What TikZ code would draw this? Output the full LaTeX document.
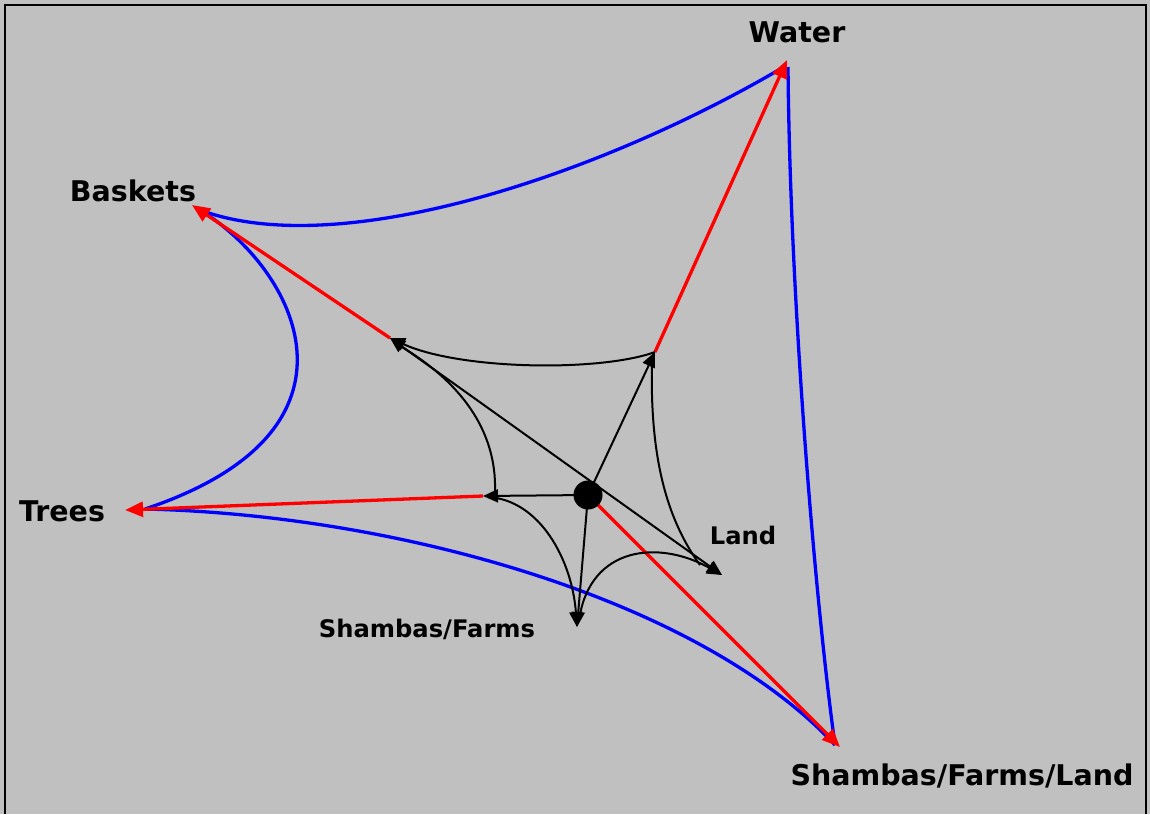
\documentclass[tikz,border=0pt]{standalone}
\usepackage{fontspec}
\setmainfont{DejaVu Sans}
\usetikzlibrary{arrows.meta}
\definecolor{bg}{HTML}{C0C0C0}
\begin{document}
\begin{tikzpicture}[x=1pt,y=-1pt,
 bigl/.style={font=\bfseries\fontsize{28.5}{31}\selectfont, inner sep=0pt},
 smalll/.style={font=\bfseries\fontsize{24.2}{27}\selectfont, inner sep=0pt},
 redarr/.style={draw=red, line width=3.3pt, -{Triangle[length=18pt,width=15pt]}},
 blueln/.style={draw=blue, line width=3.3pt},
 blk/.style={draw=black, line width=2pt},
 blkarr/.style={blk, -{Triangle[length=15pt,width=13pt]}},
 blkarr2/.style={blk, {Triangle[length=15pt,width=13pt]}-{Triangle[length=15pt,width=13pt]}},
]
\fill[bg] (0,0) rectangle (1150,814);
\useasboundingbox (0,0) rectangle (1150,814);
\draw[line width=2pt] (4.5,814) -- (4.5,4.5) -- (1146,4.5) -- (1146,814);

% labels
\node[bigl] (lw) at (797,32) {Water};
\node[bigl] (lb) at (133,191) {Baskets};
\node[bigl] (lt) at (62,511) {Trees};
\node[bigl] (ls) at (962,776) {Shambas/Farms/Land};
\node[smalll] (ll) at (743,535) {Land};
\node[smalll] (lsf) at (427,629) {Shambas/Farms};

% outer tips
\coordinate (W) at (787,60);
\coordinate (B) at (192,205);
\coordinate (T) at (125,510);
\coordinate (S) at (840,747);
% inner points
\coordinate (PB) at (390,338);
\coordinate (PW) at (655,352);
\coordinate (PT) at (483,496);
\coordinate (PL) at (722,575);
\coordinate (PS) at (577,627);
\coordinate (C) at (588,495);
\coordinate (Cr) at (598,505);

% blue curves
\draw[blueln] (782,68) coordinate (W1) .. controls (600,175) and (340,262) .. (200,210) coordinate (B1);
\draw[blueln] (B1) .. controls (295,268) and (382,430) .. (145,509) coordinate (T1);
\draw[blueln] (T1) .. controls (400,515) and (700,600) .. (835,745) coordinate (S1);
\draw[blueln] (788,67) coordinate (W2) .. controls (790,300) and (815,600) .. (S1);

% red arrows
\draw[redarr] (PB) -- (B);
\draw[redarr] (PW) -- (W);
\draw[redarr] (PT) -- (T);
\draw[redarr] (Cr) -- (S);

% black straight arrows
\draw[blkarr] (C) -- (PW);
\draw[blkarr] (C) -- (PT);
\draw[blkarr] (C) -- (PS);
\draw[blkarr2] (PB) -- (PL);

% black curves
\draw[blkarr] (PW) .. controls (600,372) and (460,370) .. (PB);
\draw[blk] (395,343) .. controls (460,380) and (497,430) .. (495,492);
\draw[blkarr] (488,497) .. controls (540,500) and (572,560) .. (PS);
\draw[blkarr] (579,620) .. controls (590,545) and (660,540) .. (PL);
\draw[blk] (700,565) .. controls (660,510) and (650,440) .. (652,358);

% centre dot
\node[circle, fill=black, minimum size=29pt, inner sep=0pt] (dot) at (C) {};
\end{tikzpicture}
\end{document}
